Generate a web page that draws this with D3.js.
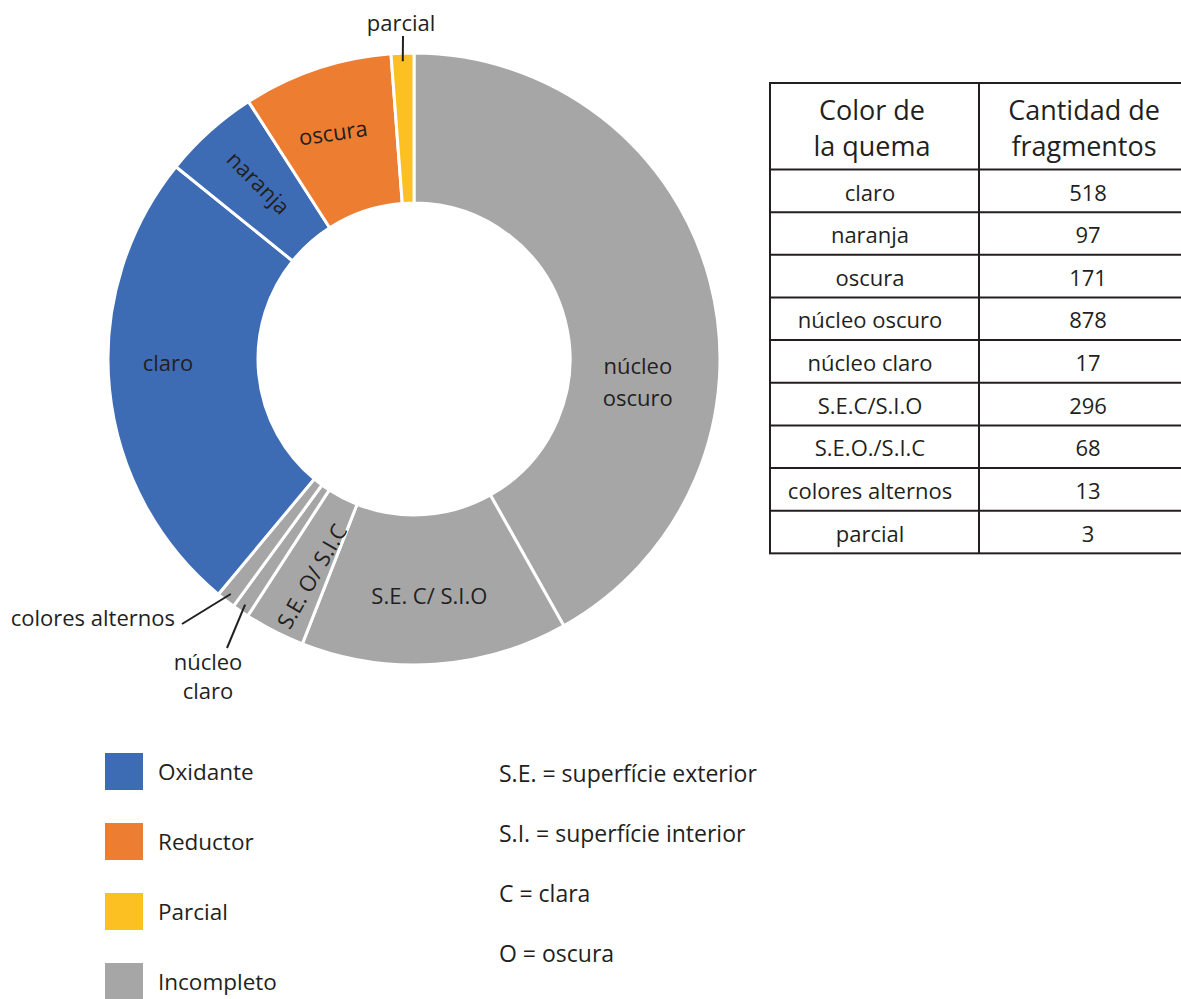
<!DOCTYPE html>
<html><head><meta charset="utf-8">
<script src="https://cdn.jsdelivr.net/npm/d3@7"></script>
<style>
body{margin:0;background:#fff;}
svg text{font-family:"Open Sans",sans-serif;fill:#231f20;}
</style></head><body><svg id="c" width="1181" height="999"></svg>
<script>
// ---- data ----
const categories = ["núcleo oscuro","S.E.C/S.I.O","S.E.O./S.I.C","núcleo claro","colores alternos","claro","naranja","oscura","parcial"];
// share of the ring as drawn in the figure (percent of circle)
const ringShares = [41.9,14.1,3.2,0.9,1.0,24.8,5.1,7.9,1.2];
const burnTypes = ["Incompleto","Incompleto","Incompleto","Incompleto","Incompleto","Oxidante","Oxidante","Reductor","Parcial"];
const sliceLabels = [["núcleo","oscuro"],["S.E. C/ S.I.O"],["S.E. O/ S.I.C"],["núcleo","claro"],["colores alternos"],["claro"],["naranja"],["oscura"],["parcial"]];
const tableRows = ["claro","naranja","oscura","núcleo oscuro","núcleo claro","S.E.C/S.I.O","S.E.O./S.I.C","colores alternos","parcial"];
const fragmentCounts = [518,97,171,878,17,296,68,13,3];
const tableHeaders = [["Color de","la quema"],["Cantidad de","fragmentos"]];
const legendTypes = ["Oxidante","Reductor","Parcial","Incompleto"];
const legendColors = ["#3d6cb5","#ed7d31","#fcc023","#a6a6a6"];
const abbreviations = ["S.E. = superfície exterior","S.I. = superfície interior","C = clara","O = oscura"];

// ---- setup ----
const svg = d3.select("#c");
const ink = "#231f20";
const cx = 414, cy = 359, rOut = 306, rIn = 156;
const color = d3.scaleOrdinal(legendTypes, legendColors);
const data = categories.map((c,i)=>({cat:c, share:ringShares[i], type:burnTypes[i], label:sliceLabels[i]}));
const pie = d3.pie().sort(null).value(d=>d.share);
const arcs = pie(data);
const arc = d3.arc().innerRadius(rIn).outerRadius(rOut);
const rad = Math.PI/180;
const polar = (aDeg, r) => [cx + r*Math.sin(aDeg*rad), cy - r*Math.cos(aDeg*rad)];
const midDeg = a => (a.startAngle + a.endAngle)/2/rad;

const g = svg.append("g").attr("transform",`translate(${cx},${cy})`);
g.selectAll("path").data(arcs).join("path")
  .attr("d", arc)
  .attr("fill", d=>color(d.data.type))
  .attr("stroke","#fff").attr("stroke-width",3).attr("stroke-linejoin","miter");

// inside labels: polar placement (angle deg clockwise from top, radius), rotation
const inside = {
  "núcleo oscuro":{a:95.9, r:225, rot:0, lh:32},
  "S.E.C/S.I.O":{a:176.3, r:238, rot:0},
  "S.E.O./S.I.C":{a:205.1, r:240, rot:-60},
  "claro":{a:269.1, r:246, rot:0},
  "naranja":{a:318.5, r:235, rot:45},
  "oscura":{a:340.3, r:240, rot:-8}
};
const fs = 22;
arcs.forEach(a=>{
  const L = inside[a.data.cat];
  if(!L) return;
  const [x,y] = polar(L.a, L.r);
  const lines = a.data.label;
  const lh = L.lh || 30;
  const t = svg.append("text").attr("font-size",fs).attr("text-anchor","middle")
    .attr("transform",`translate(${x},${y}) rotate(${L.rot})`);
  lines.forEach((ln,i)=>{
    t.append("tspan").attr("x",0).attr("y",(i-(lines.length-1)/2)*lh).attr("dy","0.35em").text(ln);
  });
});

// outside labels with leader lines
const outside = {
  "parcial":{tx:401, ty:31, anchor:"middle", from:[403,36], lh:0},
  "colores alternos":{tx:175, ty:626, anchor:"end", from:[182,624]},
  "núcleo claro":{tx:208, ty:670, anchor:"middle", from:[227,648], lh:29}
};
arcs.forEach(a=>{
  const L = outside[a.data.cat];
  if(!L) return;
  const end = polar(midDeg(a), 298);
  svg.append("line").attr("x1",L.from[0]).attr("y1",L.from[1]).attr("x2",end[0]).attr("y2",end[1])
    .attr("stroke",ink).attr("stroke-width",2);
  const t = svg.append("text").attr("font-size",fs).attr("text-anchor",L.anchor);
  a.data.label.forEach((ln,i)=>{
    t.append("tspan").attr("x",L.tx).attr("y",L.ty + i*(L.lh||0)).text(ln);
  });
});

// ---- table ----
const tx0 = 770, tx1 = 979, tx2 = 1200;
const tTop = 83, hBottom = 169.5, rowH = 42.65;
const rowY = d3.scaleLinear().domain([0, tableRows.length]).range([hBottom, hBottom + rowH*tableRows.length]);
const tb = svg.append("g");
const tBottom = rowY(tableRows.length);
tb.append("rect").attr("x",tx0).attr("y",tTop).attr("width",tx2-tx0).attr("height",tBottom-tTop)
  .attr("fill","none").attr("stroke",ink).attr("stroke-width",2);
tb.append("line").attr("x1",tx1).attr("x2",tx1).attr("y1",tTop).attr("y2",tBottom).attr("stroke",ink).attr("stroke-width",2);
d3.range(tableRows.length).forEach(i=>{
  tb.append("line").attr("x1",tx0).attr("x2",tx2).attr("y1",rowY(i)).attr("y2",rowY(i)).attr("stroke",ink).attr("stroke-width",2);
});
const colC = [872, 1084];
tableHeaders.forEach((h,j)=>{
  h.forEach((ln,i)=>{
    tb.append("text").attr("x",colC[j]).attr("y",120 + i*36).attr("text-anchor","middle").attr("font-size",27).text(ln);
  });
});
tableRows.forEach((r,i)=>{
  tb.append("text").attr("x",870).attr("y",rowY(i)+31).attr("text-anchor","middle").attr("font-size",fs).text(r);
  tb.append("text").attr("x",1088).attr("y",rowY(i)+31).attr("text-anchor","middle").attr("font-size",fs).text(fragmentCounts[i]);
});

// ---- legend ----
const lg = svg.append("g");
legendTypes.forEach((t,i)=>{
  const y = 753 + i*70;
  lg.append("rect").attr("x",105).attr("y",y).attr("width",38).attr("height",37).attr("fill",color(t));
  lg.append("text").attr("x",158).attr("y",y+27).attr("font-size",22.5).text(t);
});
abbreviations.forEach((t,i)=>{
  lg.append("text").attr("x",499).attr("y",782 + i*60).attr("font-size",23).text(t);
});
</script></body></html>
